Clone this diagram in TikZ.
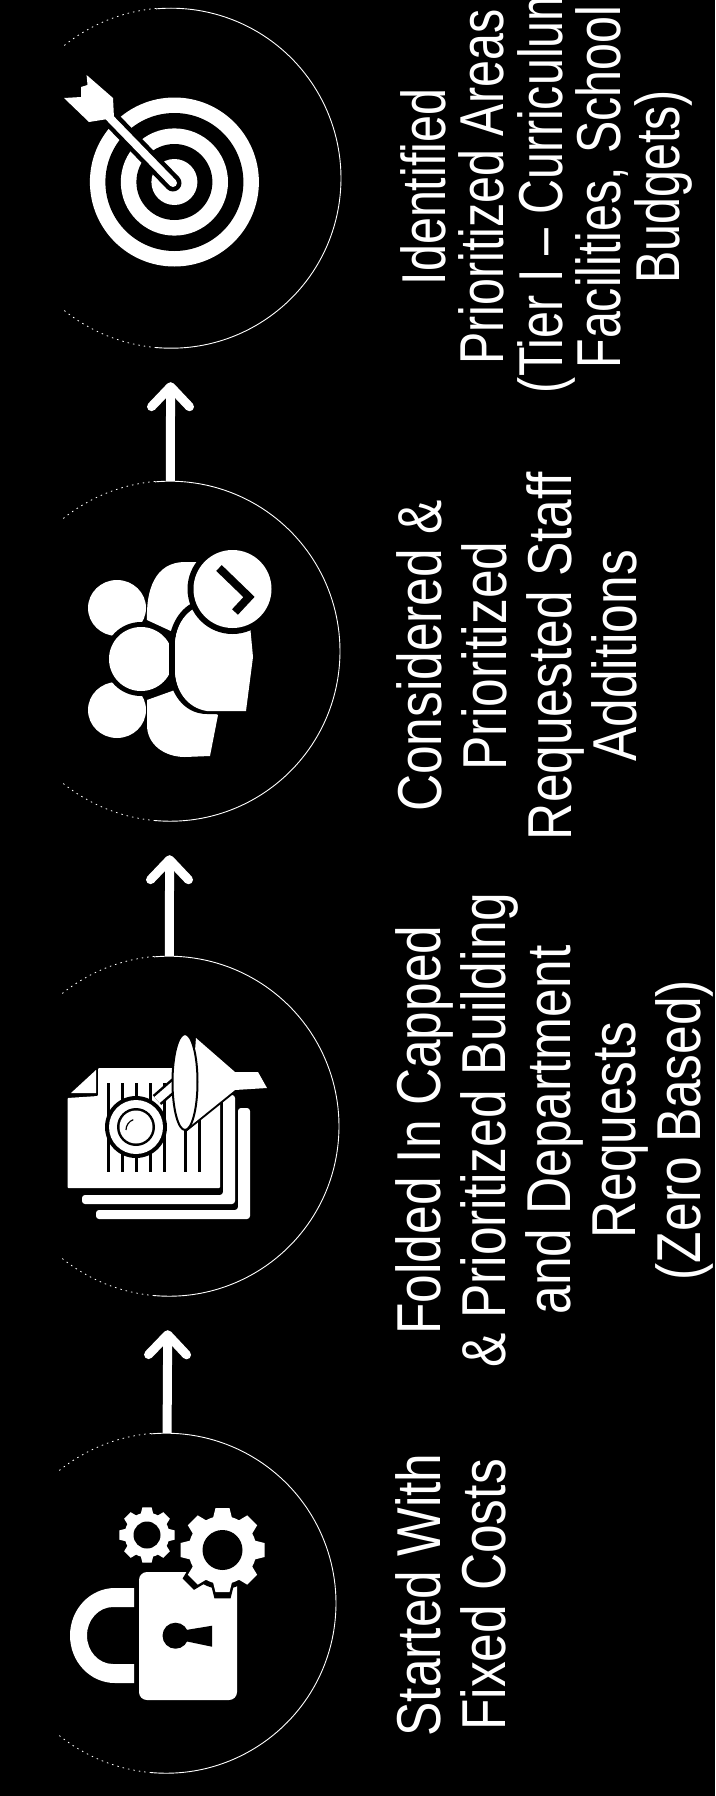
\documentclass[tikz,border=0pt]{standalone}
\usepackage{fontspec}
\setmainfont{Liberation Sans}
\usepackage{xcolor}
\usepackage{tikz}
\usetikzlibrary{arrows.meta}
\tikzset{
  stagering/.style={circle, minimum size=340pt, inner sep=0pt},
  ringline/.style={white, line width=0.9pt},
  ringfade/.style={white, line width=0.8pt, dash pattern=on 1.5pt off 4pt},
  stagearrow/.style={white, line width=9pt, shorten >=34pt,
    -{Straight Barb[length=20pt,width=38pt,round]}},
  stagelabel/.style={text=white, rotate=90, xscale=0.83, align=center, anchor=north,
    inner sep=0pt, font=\fontsize{62}{65}\selectfont},
  whiteicon/.style={fill=white, draw=none},
  blackicon/.style={fill=black, draw=none},
  gearicon/.pic={
    \fill[pic actions] (0,0) circle (34);
    \foreach \toothangle in {0,45,...,315}
      \fill[pic actions, rotate=\toothangle] (-10,-30) -- (-7,-42) -- (7,-42) -- (10,-30) -- cycle;
  }
}
\begin{document}
\begin{tikzpicture}[x=1pt, y=-1pt]
\useasboundingbox (0,0) rectangle (715,1796);
\fill[black] (0,0) rectangle (715,1796);
% Rings
\node[stagering] (fixedcosts) at (166,1603) {};
\node[stagering] (buildingreqs) at (169,1126) {};
\node[stagering] (staffadds) at (170,651) {};
\node[stagering] (priorityareas) at (171,178) {};
\foreach \ringname in {fixedcosts,buildingreqs,staffadds,priorityareas} {
  \draw[ringline] (\ringname.-95) arc[start angle=95, end angle=-95, radius=170];
  \draw[ringfade] (\ringname.95) arc[start angle=-95, end angle=-130, radius=170];
  \draw[ringfade] (\ringname.-95) arc[start angle=95, end angle=130, radius=170];
}
% Arrows
\draw[stagearrow] (fixedcosts) -- (buildingreqs);
\draw[stagearrow] (buildingreqs) -- (staffadds);
\draw[stagearrow] (staffadds) -- (priorityareas);
% Lock with gears
\fill[whiteicon] (134,1588) -- (115,1588) arc[start angle=270, end angle=90, x radius=45, y radius=47.5]
  -- (134,1683) -- (134,1664) -- (113,1664) arc[start angle=90, end angle=270, x radius=26, y radius=28.5]
  -- (134,1607) -- cycle;
\fill[whiteicon, rounded corners=8pt] (139,1572) rectangle (237,1700);
\fill[blackicon] (175.5,1635.7) circle (13);
\fill[blackicon] (180,1631) -- (212,1625.7) -- (212,1646.7) -- (180,1640) -- cycle;
\pic[blackicon, scale=1.15] at (222.5,1550) {gearicon};
\pic[whiteicon] at (222.5,1550) {gearicon};
\fill[blackicon] (222.5,1550) circle (20);
\pic[whiteicon, scale=0.66] at (147,1535) {gearicon};
\fill[blackicon] (147,1535) circle (13.5);
% Stacked pages with funnel
\fill[whiteicon, rounded corners=3pt] (238,1108) -- (250,1108) -- (250,1219) -- (96,1219) -- (96,1210) -- (238,1210) -- cycle;
\fill[whiteicon, rounded corners=3pt] (223,1095) -- (235,1095) -- (235,1204) -- (82,1204) -- (82,1195) -- (223,1195) -- cycle;
\fill[whiteicon] (71,1093) -- (96,1070) -- (96,1093) -- cycle;
\fill[whiteicon, rounded corners=1pt] (67.5,1098) -- (98,1096) -- (98,1068) -- (220,1068) -- (220,1188) -- (67.5,1188) -- cycle;
\foreach \lineat in {108,122,136,150,164,185,199}
  \draw[black, line width=3pt] (\lineat,1083) -- (\lineat,1172);
\draw[black, line width=13pt] (157,1100) -- (180,1080);
\draw[white, line width=8pt] (157,1100) -- (180,1080);
\fill[blackicon] (136,1127) circle (31);
\fill[whiteicon] (136,1127) circle (27);
\fill[blackicon] (136,1127) circle (19);
\fill[whiteicon] (136,1127) circle (16.5);
\draw[black, line width=1.2pt] (126,1130) arc[start angle=180, end angle=250, radius=11];
\filldraw[white, draw=black, line width=4pt] (196,1038) -- (235,1072) -- (258,1072) -- (267,1088) -- (235,1090) -- (189,1127) -- cycle;
\fill[whiteicon] (196,1038) -- (235,1072) -- (258,1072) -- (267,1088) -- (235,1090) -- (189,1127) -- cycle;
\filldraw[white, draw=black, line width=2pt] (185,1082) ellipse [x radius=12.5, y radius=48];
% People with clock
\fill[whiteicon] (147,620) .. controls (146,590) and (155,562) .. (185,562) -- (200,562) -- (200,615) -- (173,632) -- cycle;
\fill[whiteicon] (147,700) -- (147,725) .. controls (147,745) and (165,757) .. (185,757) -- (210,756) -- (218,715) -- (175,690) -- cycle;
\fill[whiteicon] (117,608) ellipse [x radius=29, y radius=28];
\fill[whiteicon] (117,710) ellipse [x radius=29, y radius=28];
\fill[blackicon] (141,659) circle (37);
\fill[whiteicon] (141,659) circle (32);
\filldraw[white, draw=black, line width=6pt] (246,711) -- (207,711) .. controls (185,711) and (172,690) .. (172,670)
  -- (172,645) .. controls (172,630) and (180,612) .. (195,605) -- (250,625) -- (253,657) -- cycle;
\fill[whiteicon] (246,711) -- (207,711) .. controls (187,708) and (175,690) .. (175,670)
  -- (175,645) .. controls (175,630) and (182,615) .. (195,608) -- (250,625) -- (253,657) -- cycle;
\fill[blackicon] (232.5,589) circle (45);
\fill[whiteicon] (232.5,589) circle (39);
\draw[black, line width=8pt] (219,568) -- (249,597) -- (235,612);
% Target with arrow
\fill[whiteicon] (174.4,182) circle (84.5);
\fill[blackicon] (174.4,182) circle (69);
\fill[whiteicon] (174.4,182) circle (53.6);
\fill[blackicon] (174.4,182) circle (38);
\fill[whiteicon] (174.4,182) circle (23);
\draw[black, line width=17pt, line cap=round] (173,183) -- (112,120);
\draw[white, line width=8pt, line cap=round] (173,183) -- (108,116);
\fill[whiteicon] (86.6,75) -- (113,98) -- (114,118) -- (89,122) -- (64,98) -- (81,97) -- (81,87) -- (87.5,85) -- cycle;
% Labels
\node[stagelabel] (fixedtext) at (395,1595) {Started With\\Fixed Costs};
\node[stagelabel] (buildingtext) at (395,1130) {Folded In Capped\\\& Prioritized Building\\and Department\\Requests\\(Zero Based)};
\node[stagelabel] (stafftext) at (396,656) {Considered \&\\Prioritized\\Requested Staff\\Additions};
\node[stagelabel, xscale=0.94, font=\fontsize{62}{58.5}\selectfont] (areatext) at (400,187) {Identified\\Prioritized Areas\\(Tier I – Curriculum\\Facilities, School\\Budgets)};
\end{tikzpicture}
\end{document}
